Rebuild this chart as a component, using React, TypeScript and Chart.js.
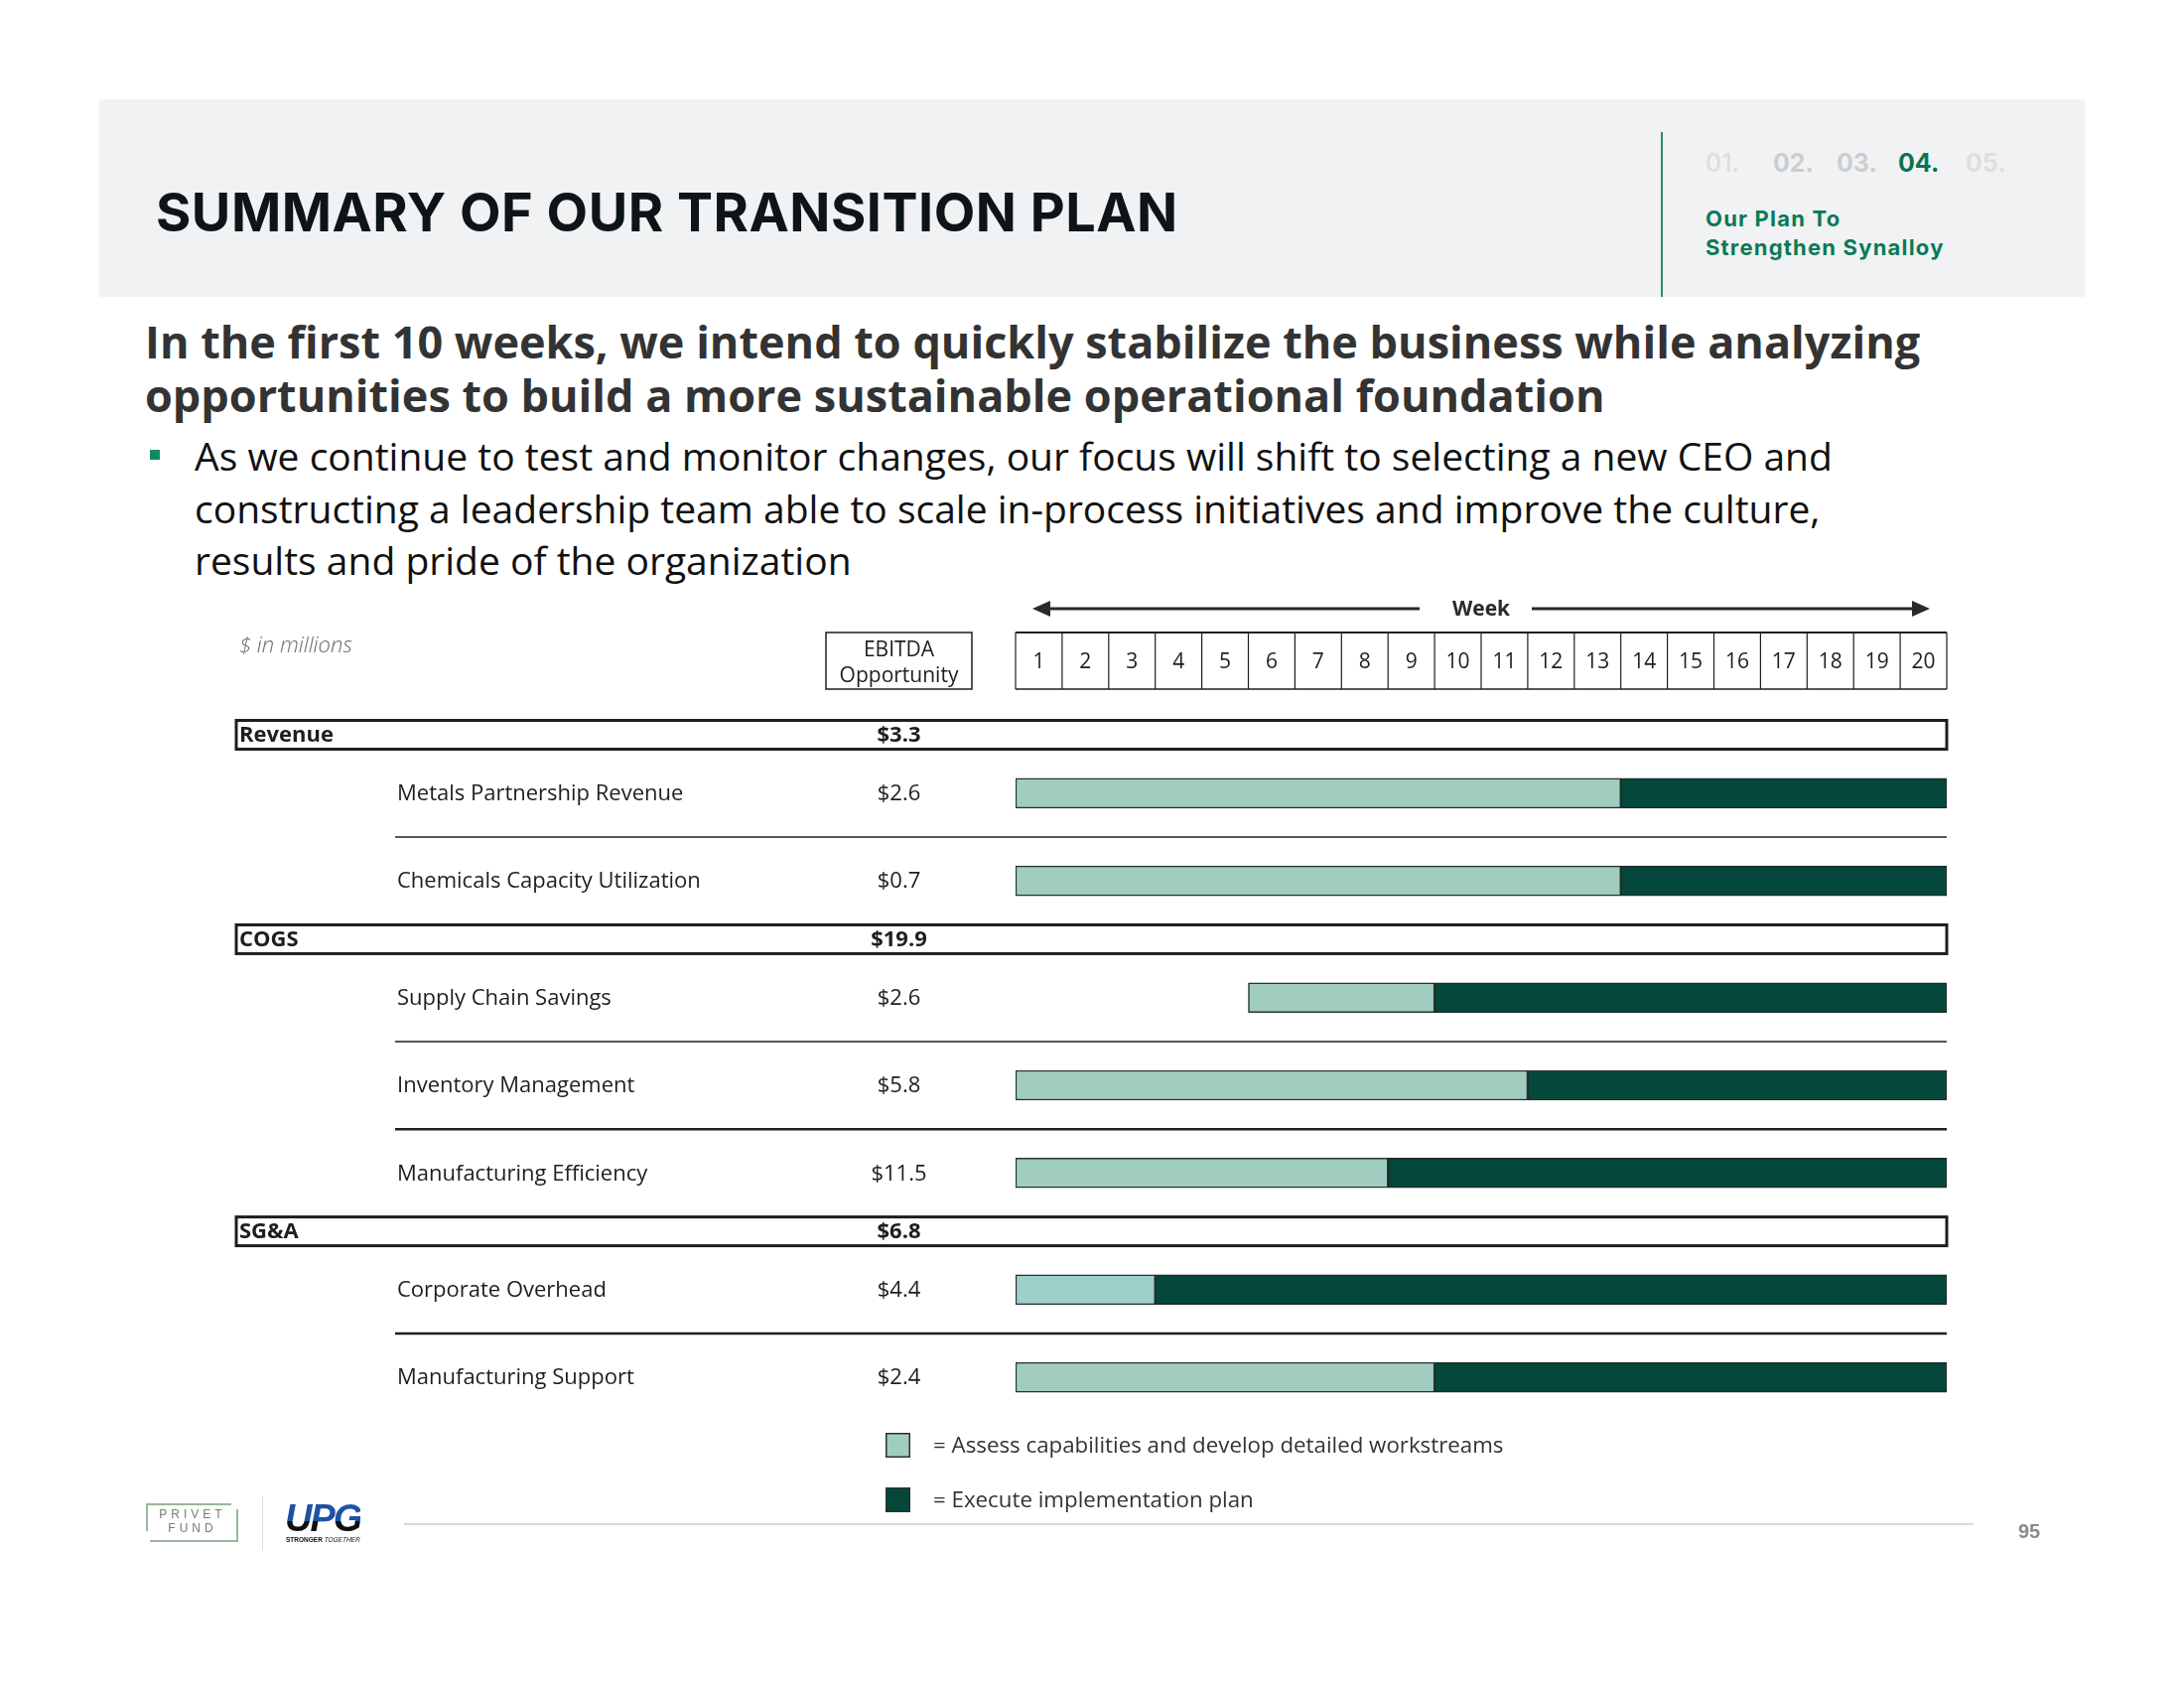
import React, { useEffect, useRef } from "react";
import { Chart, registerables } from "chart.js";

Chart.register(...registerables);

// ---------- data ----------
const weeks = ["1", "2", "3", "4", "5", "6", "7", "8", "9", "10", "11", "12", "13", "14", "15", "16", "17", "18", "19", "20"];
const rowLabels = [
  "Revenue",
  "Metals Partnership Revenue",
  "Chemicals Capacity Utilization",
  "COGS",
  "Supply Chain Savings",
  "Inventory Management",
  "Manufacturing Efficiency",
  "SG&A",
  "Corporate Overhead",
  "Manufacturing Support",
];
const rowKinds = ["header", "item", "item", "header", "item", "item", "item", "header", "item", "item"];
const ebitdaValues = ["$3.3", "$2.6", "$0.7", "$19.9", "$2.6", "$5.8", "$11.5", "$6.8", "$4.4", "$2.4"];
const assessStart = [null, 0, 0, null, 5, 0, 0, null, 0, 0];
const assessEnd = [null, 13, 13, null, 9, 11, 8, null, 3, 9];
const executeEnd = [null, 20, 20, null, 20, 20, 20, null, 20, 20];
const legendLabels = ["= Assess capabilities and develop detailed workstreams", "= Execute implementation plan"];
const navItems = ["01.", "02.", "03.", "04.", "05."];

// ---------- styles ----------
const LIGHT = "#a0cdbf";
const LIGHT_ALT = "#9dcfcb";
const DARK = "#03483a";
const BAR_BORDER = "#26332f";
const INK = "#1e1e1e";

export default function App() {
  const canvasRef = useRef<HTMLCanvasElement | null>(null);

  useEffect(() => {
    const canvas = canvasRef.current;
    if (!canvas) return;

    // vertical slot of each row, from the row structure
    const pos: number[] = [];
    rowKinds.forEach((k, i) => {
      if (i === 0) pos.push(0);
      else pos.push(pos[i - 1] + (k === "item" && rowKinds[i - 1] === "item" ? 3 : 2));
    });
    const items = rowKinds.map((k, i) => i).filter((i) => rowKinds[i] === "item");

    const assessData = items.map((i) => ({ x: [assessStart[i] as number, assessEnd[i] as number], y: pos[i] }));
    const assessColors = items.map((i) => (rowLabels[i] === "Corporate Overhead" ? LIGHT_ALT : LIGHT));
    const executeData = items.map((i) => ({ x: [assessEnd[i] as number, executeEnd[i] as number], y: pos[i] }));

    const tablePlugin = {
      id: "tablePlugin",
      beforeDatasetsDraw(chart: any) {
        const ctx = chart.ctx as CanvasRenderingContext2D;
        const xs = chart.scales.x;
        const ys = chart.scales.y;
        const left = xs.getPixelForValue(0);
        const right = xs.getPixelForValue(20);
        ctx.save();

        // header row boxes
        rowKinds.forEach((k, i) => {
          if (k !== "header") return;
          const yc = ys.getPixelForValue(pos[i]);
          ctx.strokeStyle = INK;
          ctx.lineWidth = 3;
          ctx.strokeRect(238, yc - 14.5, right - 238, 29);
        });

        // separator lines between consecutive items
        const sepWidths = [1.5, 1.5, 2.5, 2.5];
        let s = 0;
        for (let i = 1; i < rowKinds.length; i++) {
          if (rowKinds[i] === "item" && rowKinds[i - 1] === "item") {
            const yy = (ys.getPixelForValue(pos[i]) + ys.getPixelForValue(pos[i - 1])) / 2;
            ctx.strokeStyle = INK;
            ctx.lineWidth = sepWidths[s++] || 1.5;
            ctx.beginPath();
            ctx.moveTo(398, yy);
            ctx.lineTo(right, yy);
            ctx.stroke();
          }
        }

        // week header grid
        const gTop = 637;
        const gBot = 694;
        ctx.strokeStyle = INK;
        ctx.lineWidth = 1.2;
        for (let w = 0; w <= weeks.length; w++) {
          const xx = xs.getPixelForValue(w);
          ctx.beginPath();
          ctx.moveTo(xx, gTop);
          ctx.lineTo(xx, gBot);
          ctx.stroke();
        }
        ctx.lineWidth = 2;
        ctx.beginPath();
        ctx.moveTo(left, gTop);
        ctx.lineTo(right, gTop);
        ctx.stroke();
        ctx.lineWidth = 1.5;
        ctx.beginPath();
        ctx.moveTo(left, gBot);
        ctx.lineTo(right, gBot);
        ctx.stroke();
        ctx.fillStyle = INK;
        ctx.font = '21px "Open Sans"';
        ctx.textAlign = "center";
        ctx.textBaseline = "middle";
        weeks.forEach((w, idx) => {
          const xc = (xs.getPixelForValue(idx) + xs.getPixelForValue(idx + 1)) / 2;
          ctx.fillText(w, xc, (gTop + gBot) / 2 + 2);
        });

        // week arrow
        const ay = 613;
        const aL = left + 17;
        const aR = right - 17;
        const mid = (left + right) / 2;
        ctx.strokeStyle = "#2a2a2a";
        ctx.fillStyle = "#2a2a2a";
        ctx.lineWidth = 3;
        ctx.beginPath();
        ctx.moveTo(aL + 10, ay);
        ctx.lineTo(mid - 62, ay);
        ctx.moveTo(mid + 51, ay);
        ctx.lineTo(aR - 10, ay);
        ctx.stroke();
        ctx.beginPath();
        ctx.moveTo(aL, ay);
        ctx.lineTo(aL + 18, ay - 8);
        ctx.lineTo(aL + 18, ay + 8);
        ctx.closePath();
        ctx.fill();
        ctx.beginPath();
        ctx.moveTo(aR, ay);
        ctx.lineTo(aR - 18, ay - 8);
        ctx.lineTo(aR - 18, ay + 8);
        ctx.closePath();
        ctx.fill();
        ctx.font = 'bold 21px "Open Sans"';
        ctx.fillText("Week", mid, ay + 1);

        // EBITDA header box
        ctx.lineWidth = 1.5;
        ctx.strokeStyle = INK;
        ctx.strokeRect(832, gTop, 147, gBot - gTop);
        ctx.fillStyle = INK;
        ctx.font = '21px "Open Sans"';
        ctx.fillText("EBITDA", 905.5, 655);
        ctx.fillText("Opportunity", 905.5, 681);

        // $ in millions
        ctx.textAlign = "left";
        ctx.fillStyle = "#6a6a6a";
        ctx.font = 'italic 300 22px "Open Sans"';
        ctx.fillText("$ in millions", 241, 651);

        // row labels and values
        rowKinds.forEach((k, i) => {
          const yc = ys.getPixelForValue(pos[i]) + 1;
          ctx.fillStyle = INK;
          ctx.textAlign = "left";
          if (k === "header") {
            ctx.font = 'bold 22px "Open Sans"';
            ctx.fillText(rowLabels[i], 241, yc);
            ctx.textAlign = "center";
            ctx.fillText(ebitdaValues[i], 905.5, yc);
          } else {
            ctx.font = '22px "Open Sans"';
            ctx.fillText(rowLabels[i], 400, yc);
            ctx.textAlign = "center";
            ctx.fillText(ebitdaValues[i], 905.5, yc);
          }
        });

        // legend
        const legendColors = [LIGHT, DARK];
        legendLabels.forEach((lbl, li) => {
          const top = 1443 + li * 55;
          ctx.fillStyle = legendColors[li];
          ctx.fillRect(892, top, 25, 25);
          ctx.strokeStyle = BAR_BORDER;
          ctx.lineWidth = 1.5;
          ctx.strokeRect(892.75, top + 0.75, 23.5, 23.5);
          ctx.fillStyle = "#333";
          ctx.textAlign = "left";
          ctx.font = '22.3px "Open Sans"';
          ctx.fillText(lbl, 940, top + 14);
        });

        ctx.restore();
      },
    };

    const chart = new Chart(canvas, {
      type: "bar",
      data: {
        datasets: [
          {
            label: "Assess",
            data: assessData as any,
            backgroundColor: assessColors,
            borderColor: BAR_BORDER,
            borderWidth: 1.5,
            borderSkipped: false,
            barThickness: 30,
            grouped: false,
          } as any,
          {
            label: "Execute",
            data: executeData as any,
            backgroundColor: DARK,
            borderColor: "#1d2b27",
            borderWidth: 1.5,
            borderSkipped: false,
            barThickness: 30,
            grouped: false,
          } as any,
        ],
      },
      options: {
        indexAxis: "y",
        responsive: false,
        maintainAspectRatio: false,
        animation: false,
        layout: { padding: { left: 1023, right: 239, top: 710.6, bottom: 283.4 } },
        scales: {
          x: { type: "linear", min: 0, max: 20, display: false, offset: false },
          y: { type: "linear", min: -1, max: 23, reverse: true, display: false, offset: false },
        },
        plugins: {
          legend: { display: false },
          tooltip: { enabled: false },
        },
      },
      plugins: [tablePlugin],
    });
    return () => chart.destroy();
  }, []);

  const navColors = ["#dcdee0", "#cbced1", "#cbced1", "#0b7254", "#dcdee0"];
  const navLefts = [1718, 1786, 1850, 1912, 1980];

  return (
    <div
      style={{
        position: "absolute",
        left: 0,
        top: 0,
        width: 2200,
        height: 1700,
        background: "#ffffff",
        overflow: "hidden",
        fontFamily: '"Open Sans", sans-serif',
      }}
    >
      {/* header band */}
      <div style={{ position: "absolute", left: 100, top: 100, width: 2000, height: 199, background: "#f1f2f3" }} />
      <div
        style={{
          position: "absolute",
          left: 157,
          top: 186,
          fontFamily: "Inter, sans-serif",
          fontWeight: 700,
          fontSize: 54,
          lineHeight: "56px",
          color: "#0d1518",
          whiteSpace: "nowrap",
          letterSpacing: 0.5,
        }}
      >
        SUMMARY OF OUR TRANSITION PLAN
      </div>
      <div style={{ position: "absolute", left: 1673, top: 133, width: 2, height: 166, background: "#2f8a6a" }} />
      {navItems.map((n, i) => (
        <div
          key={n}
          style={{
            position: "absolute",
            left: navLefts[i],
            top: 150,
            fontFamily: "Inter, sans-serif",
            fontWeight: i === 0 ? 500 : 700,
            fontSize: 25,
            lineHeight: "28px",
            color: navColors[i],
            whiteSpace: "nowrap",
          }}
        >
          {n}
        </div>
      ))}
      <div
        style={{
          position: "absolute",
          left: 1718,
          top: 206,
          fontFamily: "Inter, sans-serif",
          fontWeight: 700,
          fontSize: 22,
          lineHeight: "29px",
          letterSpacing: 1.2,
          color: "#0a7a57",
          whiteSpace: "nowrap",
        }}
      >
        Our Plan To
        <br />
        Strengthen Synalloy
      </div>

      {/* headline */}
      <div
        style={{
          position: "absolute",
          left: 146,
          top: 317,
          fontWeight: 700,
          fontSize: 45,
          lineHeight: "54px",
          color: "#333333",
          whiteSpace: "nowrap",
        }}
      >
        In the first 10 weeks, we intend to quickly stabilize the business while analyzing
        <br />
        opportunities to build a more sustainable operational foundation
      </div>

      {/* bullet */}
      <div style={{ position: "absolute", left: 151, top: 453, width: 10, height: 10, background: "#0e8a64" }} />
      <div
        style={{
          position: "absolute",
          left: 196,
          top: 433,
          fontWeight: 400,
          fontSize: 39,
          lineHeight: "52.6px",
          color: "#111111",
          whiteSpace: "nowrap",
        }}
      >
        As we continue to test and monitor changes, our focus will shift to selecting a new CEO and
        <br />
        constructing a leadership team able to scale in-process initiatives and improve the culture,
        <br />
        results and pride of the organization
      </div>

      {/* chart canvas */}
      <canvas ref={canvasRef} width={2200} height={1700} style={{ position: "absolute", left: 0, top: 0, width: 2200, height: 1700 }} />

      {/* footer */}
      <div style={{ position: "absolute", left: 407, top: 1534, width: 1581, height: 2, background: "#d8d8d8" }} />
      <div
        style={{
          position: "absolute",
          left: 2033,
          top: 1531,
          fontFamily: '"Liberation Sans", Arial, sans-serif',
          fontWeight: 700,
          fontSize: 20,
          lineHeight: "22px",
          color: "#8a8a8a",
        }}
      >
        95
      </div>

      {/* PRIVET FUND logo */}
      <div style={{ position: "absolute", left: 147, top: 1514, width: 86, height: 2, background: "#9ab79a" }} />
      <div style={{ position: "absolute", left: 147, top: 1514, width: 2, height: 28, background: "#9ab79a" }} />
      <div style={{ position: "absolute", left: 151, top: 1551, width: 89, height: 2, background: "#9ab79a" }} />
      <div style={{ position: "absolute", left: 238, top: 1520, width: 2, height: 33, background: "#9ab79a" }} />
      <div
        style={{
          position: "absolute",
          left: 150,
          top: 1518,
          width: 88,
          textAlign: "center",
          fontFamily: '"Liberation Sans", Arial, sans-serif',
          fontSize: 12,
          lineHeight: "14px",
          letterSpacing: 4,
          color: "#6f806f",
        }}
      >
        PRIVET
        <br />
        FUND
      </div>
      <div style={{ position: "absolute", left: 264, top: 1507, width: 1, height: 54, background: "#dddddd" }} />

      {/* UPG logo */}
      <div
        style={{
          position: "absolute",
          left: 287,
          top: 1510,
          fontFamily: '"Liberation Sans", Arial, sans-serif',
          fontWeight: 700,
          fontStyle: "italic",
          fontSize: 38,
          lineHeight: "38px",
          letterSpacing: -2,
          background: "linear-gradient(#1d52a3 0%, #1d52a3 58%, #0f0f0f 58%, #0f0f0f 100%)",
          WebkitBackgroundClip: "text",
          backgroundClip: "text",
          color: "transparent",
        }}
      >
        UPG
      </div>
      <div
        style={{
          position: "absolute",
          left: 288,
          top: 1547,
          fontFamily: '"Liberation Sans", Arial, sans-serif',
          fontWeight: 700,
          fontSize: 6.5,
          lineHeight: "8px",
          color: "#111",
          whiteSpace: "nowrap",
        }}
      >
        STRONGER <span style={{ fontStyle: "italic", fontWeight: 400 }}>TOGETHER</span>
      </div>
    </div>
  );
}
